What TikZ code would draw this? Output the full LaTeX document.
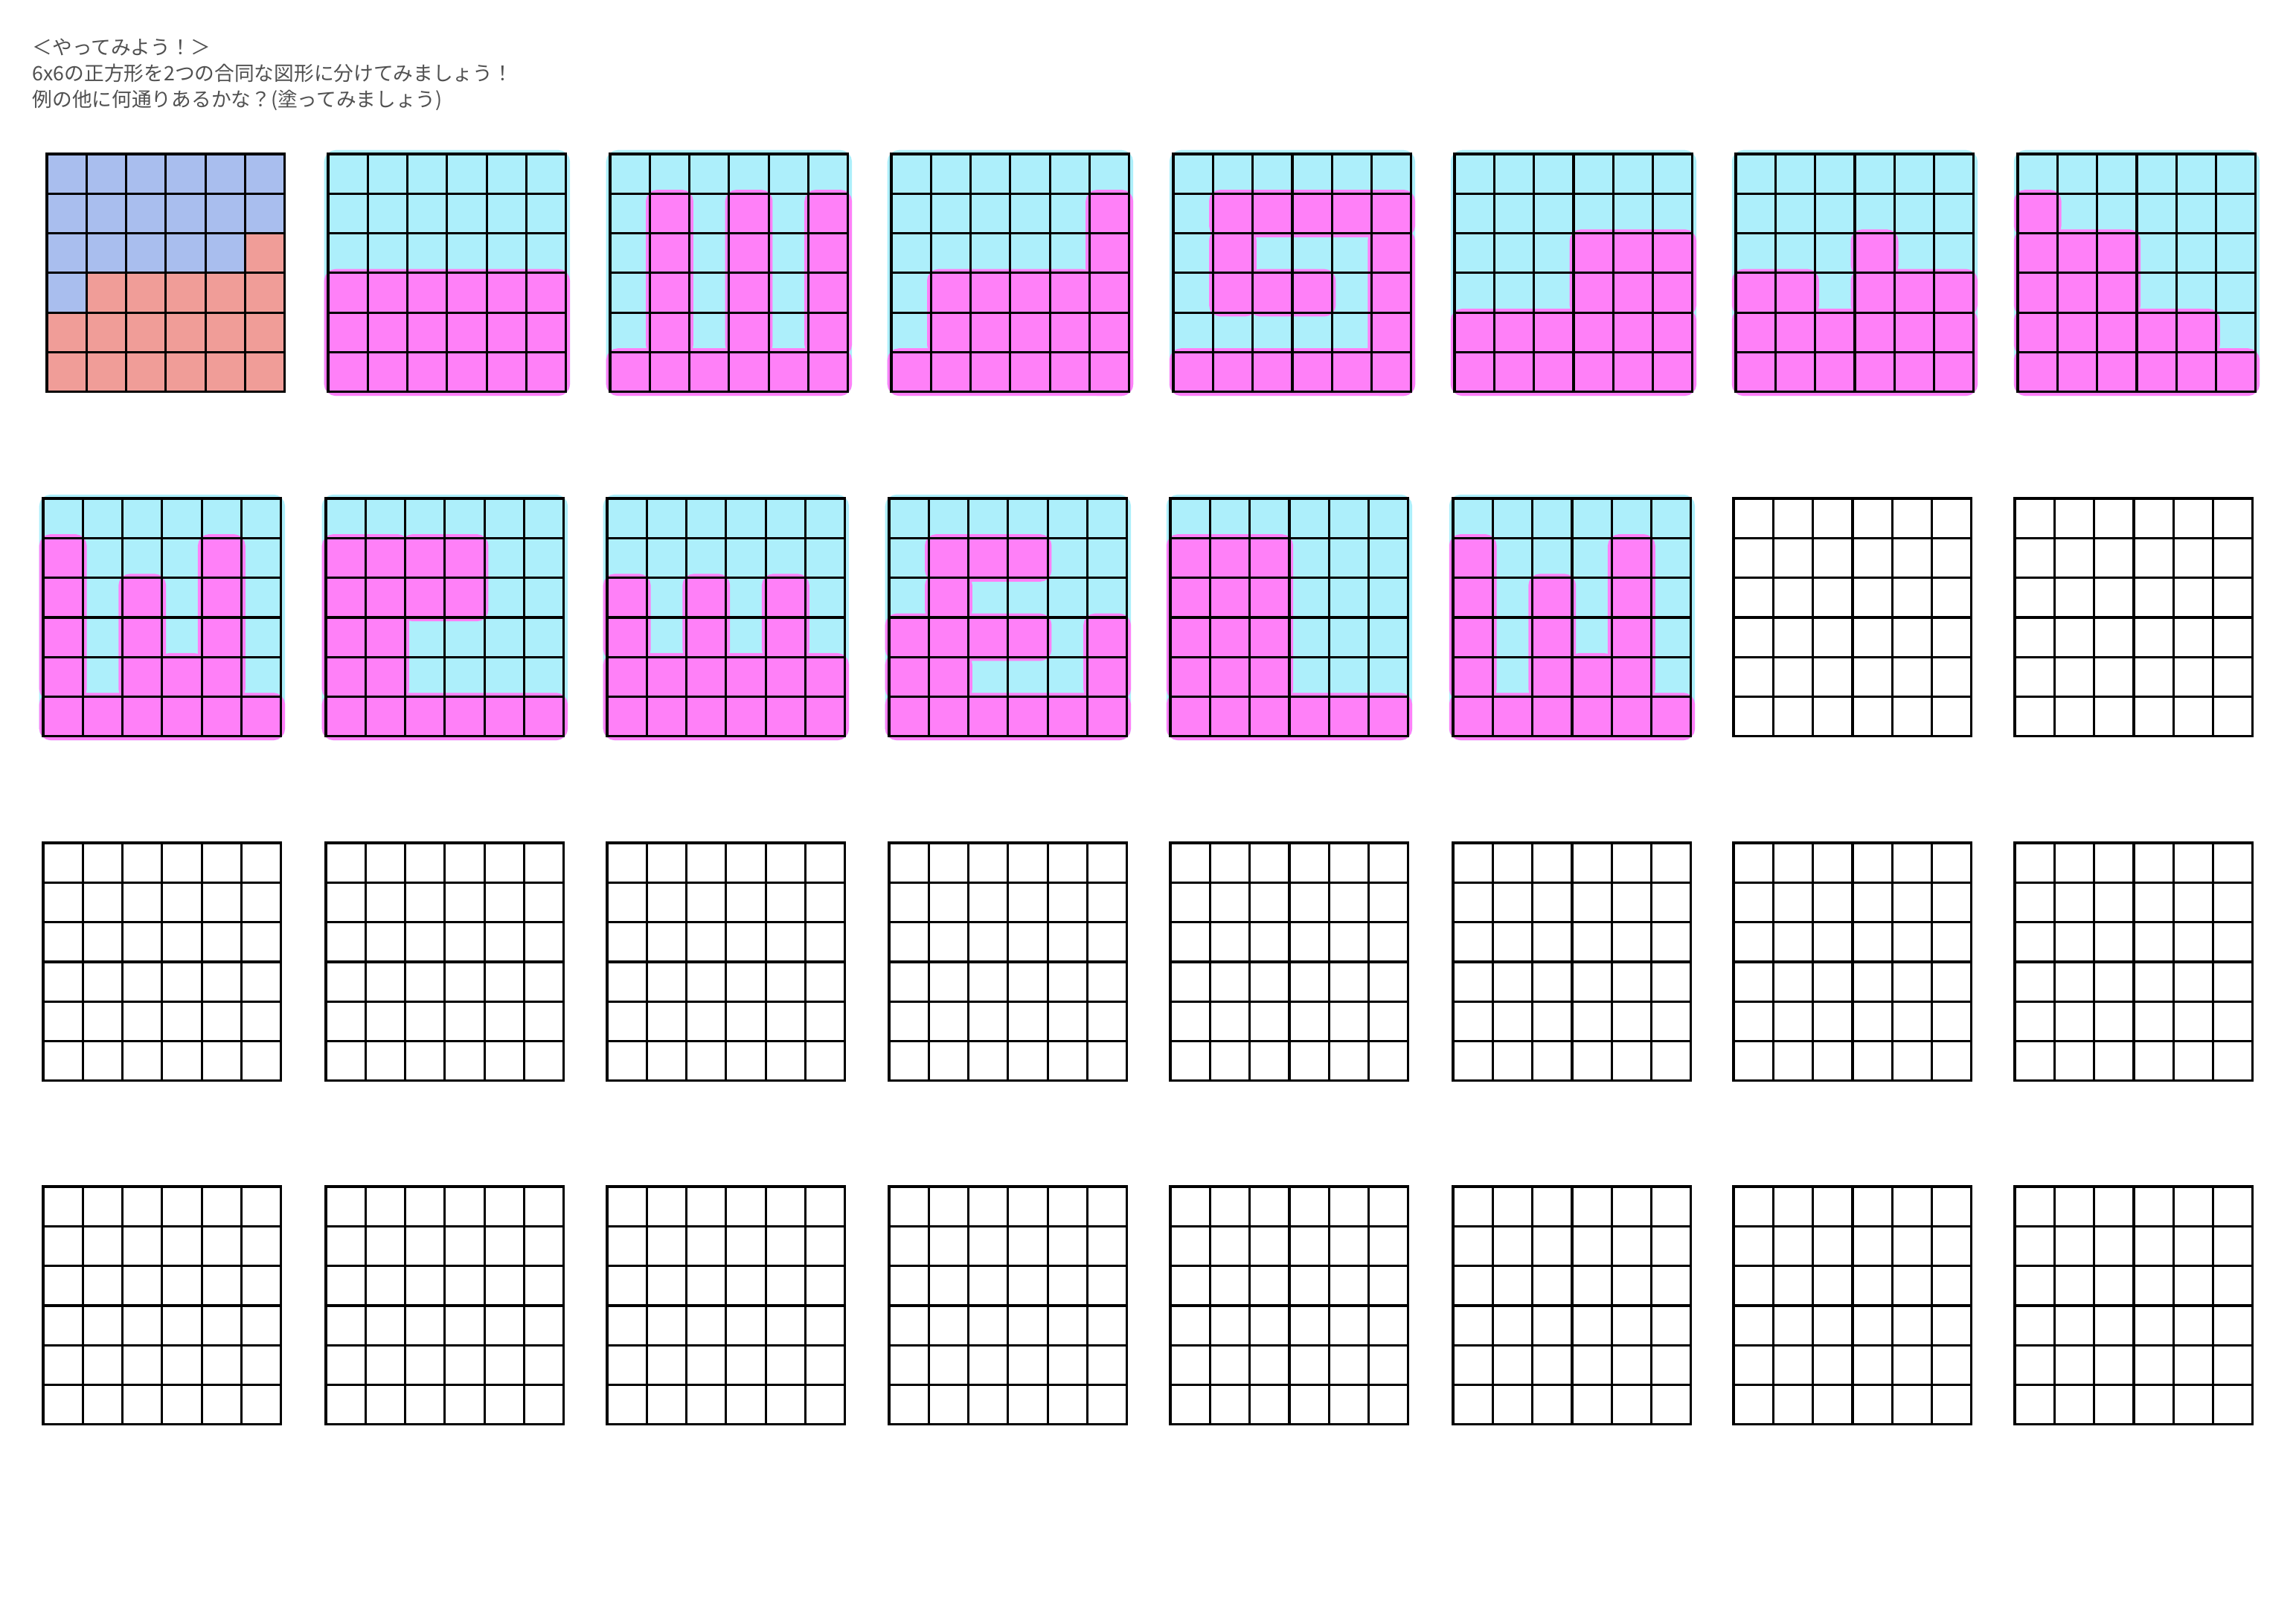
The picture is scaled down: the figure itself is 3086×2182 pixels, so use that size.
\documentclass[tikz,border=0pt]{standalone}
\usepackage{fontspec}
\newfontfamily\jpfont{Noto Sans CJK JP}
\usepackage{xcolor}
\usepackage{tikz}
\definecolor{textgray}{RGB}{80,80,80}
\definecolor{cyanink}{RGB}{173,239,251}
\definecolor{pinkink}{RGB}{255,128,248}
\definecolor{sampleblue}{RGB}{169,190,238}
\definecolor{samplered}{RGB}{240,157,152}
\tikzset{
  introtext/.style = {font=\jpfont\fontsize{7.6pt}{10pt}\selectfont, text=textgray,
                      align=left, inner sep=0pt, anchor=north west},
  gridline/.style  = {draw=black, line width=0.9pt},
  cyanpaint/.style = {fill=cyanink, draw=cyanink, line width=3pt, rounded corners=3pt},
  pinkpaint/.style = {fill=pinkink, draw=pinkink, line width=3pt, rounded corners=3pt},
  bluecell/.style  = {fill=sampleblue},
  redcell/.style   = {fill=samplered},
}
% 6x6 grid lines, cell = 1
\newcommand{\sixgrid}{%
  \foreach \k in {1,...,5} {
    \draw[gridline] (\k,0) -- (\k,6);
    \draw[gridline] (0,\k) -- (6,\k);
  }
  \draw[gridline] (0,0) rectangle (6,6);}
% empty grid at top-left corner #1,#2
\newcommand{\blankgrid}[2]{%
  \begin{scope}[shift={(#1,#2)}, x=5.33mm, y=-5.33mm]
    \sixgrid
  \end{scope}}
% painted grid: cyan everywhere, pink rectangles x0/y0/x1/y1 in #3
\newcommand{\paintgrid}[3]{%
  \begin{scope}[shift={(#1,#2)}, x=5.33mm, y=-5.33mm]
    \filldraw[cyanpaint] (0,0) rectangle (6,6);
    \foreach \xa/\ya/\xb/\yb in {#3}
      \filldraw[pinkpaint] (\xa,\ya) rectangle (\xb,\yb);
    \sixgrid
  \end{scope}}

\begin{document}
\begin{tikzpicture}[x=0.1mm, y=-0.1mm]
  \useasboundingbox (0,0) rectangle (3086,2182);

  \node[introtext] (intro) at (43,51)
    {＜やってみよう！＞\\6x6の正方形を2つの合同な図形に分けてみましょう！\\例の他に何通りあるかな？(塗ってみましょう)};

  % example split
  \begin{scope}[shift={(63,207)}, x=5.33mm, y=-5.33mm]
    \fill[bluecell] (0,0) -- (6,0) -- (6,2) -- (5,2) -- (5,3) -- (1,3) -- (1,4) -- (0,4) -- cycle;
    \fill[redcell] (6,2) -- (6,6) -- (0,6) -- (0,4) -- (1,4) -- (1,3) -- (5,3) -- (5,2) -- cycle;
    \sixgrid
  \end{scope}

  % row 1
  \paintgrid{441}{207}{0/3/6/6}
  \paintgrid{820}{207}{1/1/2/5, 3/1/4/5, 5/1/6/5, 0/5/6/6}
  \paintgrid{1198}{207}{5/1/6/6, 1/3/5/5, 0/5/6/6}
  \paintgrid{1577}{207}{1/1/6/2, 1/2/2/4, 2/3/4/4, 5/2/6/6, 0/5/6/6}
  \paintgrid{1955}{207}{3/2/6/4, 0/4/6/6}
  \paintgrid{2333}{207}{3/2/4/3, 0/3/2/4, 3/3/6/4, 0/4/6/6}
  \paintgrid{2712}{207}{0/1/1/2, 0/2/3/4, 0/4/5/5, 0/5/6/6}

  % row 2
  \paintgrid{58}{670}{0/1/1/5, 2/2/3/5, 3/4/4/5, 4/1/5/5, 0/5/6/6}
  \paintgrid{438}{670}{0/1/2/5, 2/1/4/3, 0/5/6/6}
  \paintgrid{816}{670}{0/2/1/4, 2/2/3/4, 4/2/5/4, 0/4/6/6}
  \paintgrid{1195}{670}{1/1/4/2, 1/2/2/3, 0/3/4/4, 5/3/6/5, 0/4/2/5, 0/5/6/6}
  \paintgrid{1573}{670}{0/1/3/5, 0/5/6/6}
  \paintgrid{1953}{670}{0/1/1/5, 2/2/3/5, 3/4/4/5, 4/1/5/5, 0/5/6/6}
  \blankgrid{2330}{670}
  \blankgrid{2708}{670}

  % rows 3 and 4
  \foreach \gy in {1133,1595} {
    \foreach \gx in {58,438,816,1195,1573,1953,2330,2708} {
      \blankgrid{\gx}{\gy}
    }
  }
\end{tikzpicture}
\end{document}
